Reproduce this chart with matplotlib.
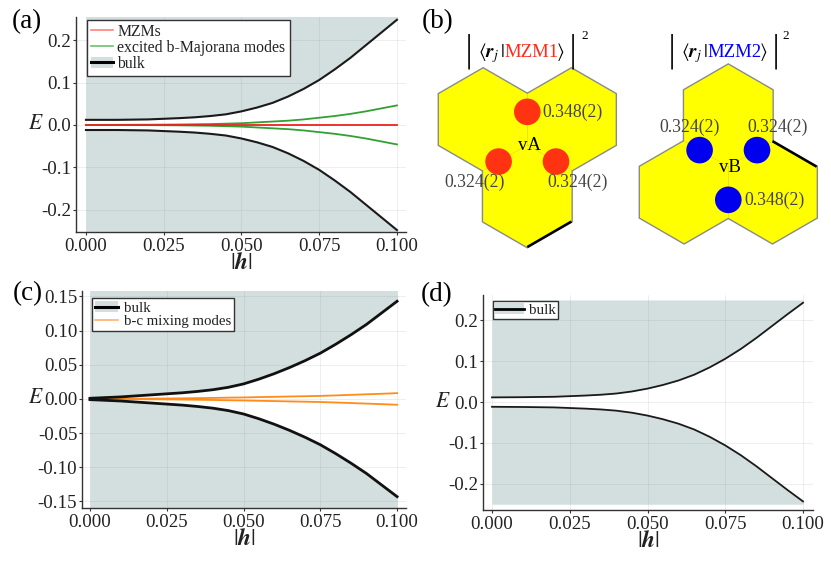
import numpy as np
import matplotlib
matplotlib.use("Agg")
import matplotlib.pyplot as plt
from matplotlib.patches import Polygon, Circle, Patch
from matplotlib.lines import Line2D
from matplotlib.offsetbox import TextArea, HPacker, AnnotationBbox
import matplotlib.transforms as mtrans

plt.rcParams['font.family'] = ['Liberation Serif', 'DejaVu Serif']
plt.rcParams['mathtext.fontset'] = 'stix'
plt.rcParams['axes.unicode_minus'] = False

# ---------------- data ----------------
h = [0.0, 0.01, 0.02, 0.03, 0.035, 0.04, 0.045, 0.05, 0.055, 0.06, 0.065,
     0.07, 0.075, 0.08, 0.085, 0.09, 0.095, 0.1]

# panel (a)
a_bulk_up = [0.012, 0.012, 0.013, 0.016, 0.018, 0.021, 0.025, 0.032, 0.041, 0.052, 0.067,
             0.085, 0.106, 0.131, 0.158, 0.188, 0.218, 0.248]
a_bulk_dn = [-v for v in a_bulk_up]
a_green_up = [0.0, 0.0002, 0.0005, 0.001, 0.0015, 0.002, 0.003, 0.004, 0.006, 0.008, 0.010,
              0.013, 0.017, 0.021, 0.026, 0.032, 0.039, 0.046]
a_green_dn = [-v for v in a_green_up]
a_red = [0.0] * len(h)

# panel (c)
c_bulk_up = [0.001, 0.003, 0.006, 0.009, 0.011, 0.0135, 0.017, 0.022, 0.029, 0.037, 0.046,
             0.056, 0.067, 0.080, 0.094, 0.109, 0.126, 0.143]
c_bulk_dn = [-v for v in c_bulk_up]
c_orange_up = [0.0, 0.0002, 0.0005, 0.0009, 0.0012, 0.0015, 0.0019, 0.0022, 0.0027, 0.0031, 0.0036,
               0.0040, 0.0045, 0.0052, 0.0060, 0.0068, 0.0076, 0.0085]
c_orange_dn = [-v for v in c_orange_up]

# panel (d)
d_bulk_up = [0.0115, 0.012, 0.013, 0.016, 0.018, 0.021, 0.026, 0.033, 0.042, 0.053, 0.067,
             0.085, 0.106, 0.130, 0.157, 0.186, 0.215, 0.243]
d_bulk_dn = [-v for v in d_bulk_up]

x_ticks = [0.0, 0.025, 0.05, 0.075, 0.1]
x_ticklabels = ["0.000", "0.025", "0.050", "0.075", "0.100"]
ad_yticks = [-0.2, -0.1, 0.0, 0.1, 0.2]
ad_yticklabels = ["-0.2", "-0.1", "0.0", "0.1", "0.2"]
c_yticks = [-0.15, -0.10, -0.05, 0.0, 0.05, 0.10, 0.15]
c_yticklabels = ["-0.15", "-0.10", "-0.05", "0.00", "0.05", "0.10", "0.15"]

mzm1_weights = ["0.348(2)", "0.324(2)", "0.324(2)"]   # top, lower-left, lower-right
mzm2_weights = ["0.324(2)", "0.324(2)", "0.348(2)"]   # upper-left, upper-right, bottom

# ---------------- style ----------------
W, H = 831, 565
FILL = '#538383'
FILL_ALPHA = 0.25
RED = '#ee2222'
GREEN = '#33a033'
ORANGE = '#ff8c1a'
TXT = '#222222'

fig = plt.figure(figsize=(W / 100, H / 100), dpi=100)


def px_axes(l, t, r, b):
    return fig.add_axes([l / W, 1 - b / H, (r - l) / W, (b - t) / H])


def style_axes(ax, xlim, ylim, yticks, yticklabels, ylabel_x):
    ax.set_xlim(*xlim)
    ax.set_ylim(*ylim)
    ax.set_xticks(x_ticks, x_ticklabels)
    ax.set_yticks(yticks, yticklabels)
    for s in ['top', 'right']:
        ax.spines[s].set_visible(False)
    for s in ['left', 'bottom']:
        ax.spines[s].set_color('#333333')
        ax.spines[s].set_linewidth(1.0)
    ax.tick_params(direction='out', length=2.5, width=0.8, colors='#333333',
                   labelcolor=TXT, labelsize=13.6)
    ax.tick_params(axis='y', pad=1)
    ax.tick_params(axis='x', pad=2)
    ax.grid(True, color='black', alpha=0.08, lw=0.6)
    ax.set_axisbelow(True)
    ax.set_xlabel(r'$|\mathbfit{h}|$', fontsize=17, labelpad=-1.5, color=TXT)
    ax.set_ylabel(r'$E$', fontsize=15.5, rotation=0, color=TXT, va='center', ha='center')
    ax.yaxis.set_label_coords(ylabel_x, 0.0,
                              transform=mtrans.blended_transform_factory(ax.transAxes, ax.transData))


def bulk_handle(lw):
    return (Patch(facecolor=FILL, alpha=FILL_ALPHA, edgecolor='none'),
            Line2D([], [], color='black', lw=lw))


# ---------------- panel (a) ----------------
axa = px_axes(76, 17, 406, 232)
axa.fill_between(h, a_bulk_up, 0.26, color=FILL, alpha=FILL_ALPHA, lw=0, zorder=1)
axa.fill_between(h, -0.26, a_bulk_dn, color=FILL, alpha=FILL_ALPHA, lw=0, zorder=1)
axa.plot(h, a_green_up, color=GREEN, lw=1.3, zorder=3)
axa.plot(h, a_green_dn, color=GREEN, lw=1.3, zorder=3)
axa.plot(h, a_red, color=RED, lw=1.3, zorder=4)
axa.plot(h, a_bulk_up, color='#1a1a1a', lw=1.5, zorder=5)
axa.plot(h, a_bulk_dn, color='#1a1a1a', lw=1.5, zorder=5)
style_axes(axa, (-0.0032, 0.1029), (-0.2525, 0.2545), ad_yticks, ad_yticklabels, -0.121)
la = axa.legend([Line2D([], [], color='#ff8080', lw=1.2),
                 Line2D([], [], color='#70c070', lw=1.2),
                 bulk_handle(2.2)],
                ["MZMs", "excited b-Majorana modes", "bulk"],
                loc='upper left', bbox_to_anchor=(0.033, 0.986), borderaxespad=0,
                fontsize=11.3, frameon=True, fancybox=False, framealpha=1,
                edgecolor='#333333', handlelength=1.4, handletextpad=0.3,
                labelspacing=0.0, borderpad=0.25)
la.get_frame().set_linewidth(1.0)
for t in la.get_texts():
    t.set_color(TXT)

# ---------------- panel (c) ----------------
axc = px_axes(82, 291, 406, 508)
axc.fill_between(h, c_bulk_up, 0.17, color=FILL, alpha=FILL_ALPHA, lw=0, zorder=1)
axc.fill_between(h, -0.17, c_bulk_dn, color=FILL, alpha=FILL_ALPHA, lw=0, zorder=1)
axc.plot(h, c_orange_up, color=ORANGE, lw=1.3, zorder=3)
axc.plot(h, c_orange_dn, color=ORANGE, lw=1.3, zorder=3)
axc.plot(h, c_bulk_up, color='#111111', lw=2.0, zorder=5)
axc.plot(h, c_bulk_dn, color='#111111', lw=2.0, zorder=5)
style_axes(axc, (-0.0026, 0.1029), (-0.1596, 0.158), c_yticks, c_yticklabels, -0.142)
lc = axc.legend([bulk_handle(2.2), Line2D([], [], color='#ffb070', lw=1.2)],
                ["bulk", "b-c mixing modes"],
                loc='upper left', bbox_to_anchor=(0.03, 0.966), borderaxespad=0,
                fontsize=10.7, frameon=True, fancybox=False, framealpha=1,
                edgecolor='#333333', handlelength=1.6, handletextpad=0.35,
                labelspacing=0.0, borderpad=0.2)
lc.get_frame().set_linewidth(1.0)
for t in lc.get_texts():
    t.set_color(TXT)

# ---------------- panel (d) ----------------
axd = px_axes(483, 295, 813, 510)
axd.fill_between(h, d_bulk_up, 0.25, color=FILL, alpha=FILL_ALPHA, lw=0, zorder=1)
axd.fill_between(h, -0.25, d_bulk_dn, color=FILL, alpha=FILL_ALPHA, lw=0, zorder=1)
axd.plot(h, d_bulk_up, color='#1a1a1a', lw=1.3, zorder=5)
axd.plot(h, d_bulk_dn, color='#1a1a1a', lw=1.3, zorder=5)
style_axes(axd, (-0.0029, 0.1032), (-0.264, 0.262), ad_yticks, ad_yticklabels, -0.121)
ld = axd.legend([bulk_handle(2.0)], ["bulk"],
                loc='upper left', bbox_to_anchor=(0.03, 0.972), borderaxespad=0,
                fontsize=10.8, frameon=True, fancybox=False, framealpha=1,
                edgecolor='#333333', handlelength=1.9, handletextpad=0.35,
                borderpad=0.15)
ld.get_frame().set_linewidth(1.0)
for t in ld.get_texts():
    t.set_color(TXT)

# ---------------- panel (b) ----------------
axb = fig.add_axes([420 / W, 1 - 260 / H, 411 / W, 260 / H])
axb.set_xlim(420, 831)
axb.set_ylim(260, 0)
axb.axis('off')

R = 51.0           # hexagon circumradius (px)
RC = 13.3          # orbital circle radius
DC = 0.65 * R      # distance of circles from vortex vertex
s3 = np.sqrt(3) / 2


def hexagon(cx, cy):
    ang = np.deg2rad(np.arange(6) * 60 + 90)
    return np.column_stack([cx + R * np.cos(ang), cy - R * np.sin(ang)])


def draw_group(vx, vy, hex_dirs, circ_dirs, color, labels, label_offsets, name,
               black_edge):
    centers = [(vx + R * dx, vy + R * dy) for dx, dy in hex_dirs]
    for cx, cy in centers:
        axb.add_patch(Polygon(hexagon(cx, cy), closed=True, facecolor='none',
                              edgecolor='#8a8a8a', lw=2.0, zorder=1))
    for cx, cy in centers:
        axb.add_patch(Polygon(hexagon(cx, cy), closed=True, facecolor='#ffff00',
                              edgecolor='none', zorder=2))
    (hi, v0, v1) = black_edge
    verts = hexagon(*centers[hi])
    axb.plot([verts[v0][0], verts[v1][0]], [verts[v0][1], verts[v1][1]],
             color='black', lw=1.8, zorder=3, solid_capstyle='butt')
    for (dx, dy), lab, (ox, oy, ha) in zip(circ_dirs, labels, label_offsets):
        px, py = vx + DC * dx, vy + DC * dy
        axb.add_patch(Circle((px, py), RC, facecolor=color, edgecolor='none', zorder=4))
        axb.text(px + ox, py + oy, lab, ha=ha, va='center', fontsize=12.8,
                 color='#444444', zorder=5)
    axb.text(vx + 2, vy + 1, name, ha='center', va='center', fontsize=13.5,
             color='black', zorder=5)


# left group: vortex vA, hexagons upper-left, upper-right, bottom
draw_group(527.3, 145.0,
           [(-s3, -0.5), (s3, -0.5), (0, 1)],
           [(0, -1), (-s3, 0.5), (s3, 0.5)],
           '#ff3311', mzm1_weights,
           [(RC + 2, 0, 'left'), (-24, 21, 'center'), (22, 21, 'center')],
           'vA', (2, 3, 4))
# right group: vortex vB, hexagons top, lower-left, lower-right
draw_group(728.3, 166.7,
           [(0, -1), (-s3, 0.5), (s3, 0.5)],
           [(-s3, -0.5), (s3, -0.5), (0, 1)],
           '#0000ee', mzm2_weights,
           [(-10, -23, 'center'), (21, -23, 'center'), (RC + 3, 0, 'left')],
           'vB', (2, 0, 5))


def bra_ket(xc, xl, xr, sup_x, name, color):
    parts = [TextArea(r"$\langle\mathbfit{r}_j\,|\,$", textprops=dict(fontsize=14, color='black')),
             TextArea(name, textprops=dict(fontsize=13.5, color=color)),
             TextArea(r"$\!\rangle$", textprops=dict(fontsize=14, color='black'))]
    box = HPacker(children=parts, align='baseline', pad=0, sep=-1)
    axb.add_artist(AnnotationBbox(box, (xc, 53), xycoords='data', frameon=False,
                                  box_alignment=(0.5, 0.5), pad=0, zorder=6))
    for xb in (xl, xr):
        axb.text(xb, 51, "|", ha='center', va='center', fontsize=26, color='black',
                 family='DejaVu Sans', fontweight='light')
    axb.text(sup_x, 36, "2", ha='center', va='center', fontsize=9.5, color='black')


bra_ket(521.0, 469.3, 573.3, 584.5, "MZM1", '#ff2a1a')
bra_ket(724.0, 671.7, 776.0, 785.5, "MZM2", '#0000ff')

# panel labels
for lab, x, y in [("(a)", 27, 22), ("(b)", 438, 22), ("(c)", 28, 294), ("(d)", 437, 295)]:
    fig.text(x / W, 1 - y / H, lab, ha='center', va='center', fontsize=19.5, color='black')

fig.savefig("out.png", dpi=100)
